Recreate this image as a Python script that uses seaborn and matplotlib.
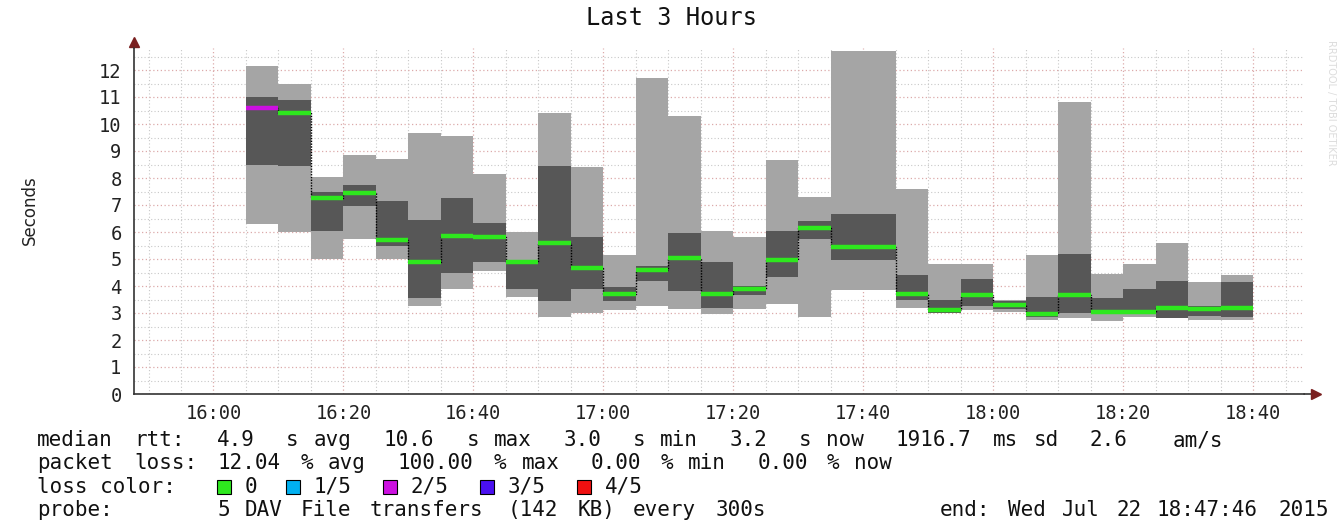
#!/usr/bin/env python3
"""SmokePing style chart: Last 3 Hours of DAV file transfer rtt."""

import matplotlib
matplotlib.use("Agg")
import matplotlib.pyplot as plt
import matplotlib.dates as mdates
from matplotlib.patches import Rectangle
from matplotlib.ticker import MultipleLocator
import numpy as np
import pandas as pd
import seaborn as sns

# one bar per probe round (5 pings, every 300s)
bar_start = pd.date_range("2015-07-22 16:05", periods=31, freq="5min")
ping_lo = [6.3, 6.0, 5.0, 5.75, 5.0, 3.25, 3.9, 4.55, 3.6, 2.85, 3.0, 3.1, 3.25, 3.15, 2.95, 3.15,
           3.35, 2.85, 3.85, 3.85, 3.2, 3.0, 3.1, 3.05, 2.75, 2.8, 2.7, 2.85, 2.8, 2.75, 2.75]
ping_q1 = [8.5, 8.45, 6.05, 6.95, 5.5, 3.55, 4.5, 4.9, 3.9, 3.45, 3.9, 3.45, 4.2, 3.8, 3.2, 3.65,
           4.35, 5.75, 4.95, 4.95, 3.5, 3.0, 3.25, 3.15, 2.85, 3.0, 2.95, 2.95, 2.8, 2.9, 2.85]
median = [10.6, 10.4, 7.25, 7.45, 5.7, 4.9, 5.85, 5.8, 4.9, 5.6, 4.65, 3.7, 4.6, 5.05, 3.7, 3.9,
          4.95, 6.15, 5.45, 5.45, 3.7, 3.1, 3.65, 3.3, 2.95, 3.65, 3.05, 3.05, 3.2, 3.15, 3.2]
ping_q3 = [11.0, 10.9, 7.5, 7.75, 7.15, 6.45, 7.25, 6.35, 4.95, 8.45, 5.8, 3.95, 4.75, 5.95, 4.9, 4.0,
           6.05, 6.4, 6.65, 6.65, 4.4, 3.5, 4.25, 3.45, 3.6, 5.2, 3.55, 3.9, 4.2, 3.25, 4.15]
ping_hi = [12.15, 11.5, 8.05, 8.85, 8.7, 9.65, 9.55, 8.15, 6.0, 10.4, 8.4, 5.15, 11.7, 10.3, 6.05, 5.8,
           8.65, 7.3, 12.7, 12.7, 7.6, 4.8, 4.8, 3.5, 5.15, 10.8, 4.45, 4.8, 5.6, 4.15, 4.4]
lost = [2] + [0] * 30

loss_labels = ["0", "1/5", "2/5", "3/5", "4/5"]
loss_colors = ["#2ee81e", "#00b0f0", "#cc10e0", "#4a10f0", "#f01010"]

W, H = 1339, 525
sns.set_theme(style="white")
plt.rcParams["font.family"] = ["DejaVu Sans Mono", "DejaVu Sans"]

fig = plt.figure(figsize=(W / 100, H / 100), dpi=100)
ax = fig.add_axes([134 / W, (H - 394) / H, (1303.5 - 134) / W, 12.8 * 27 / H])

x = mdates.date2num(bar_start)
w = 5 / 1440
lo = np.array(ping_lo)
q1 = np.array(ping_q1)
q3 = np.array(ping_q3)
hi = np.array(ping_hi)

ax.bar(x, hi - lo, bottom=lo, width=w, align="edge", color="#a5a5a5", linewidth=0, zorder=2)
ax.bar(x, q3 - q1, bottom=q1, width=w, align="edge", color="#575757", linewidth=0, zorder=3)

# median as a step line, the vertical joins are thin and dark
step_x = list(bar_start) + [bar_start[-1] + pd.Timedelta(minutes=5)]
step_y = median + [median[-1]]
sns.lineplot(x=step_x, y=step_y, drawstyle="steps-post", color="black", lw=1,
             linestyle=(0, (1, 1)), ax=ax, zorder=4)
ax.hlines(median, x, x + w, colors=[loss_colors[l] for l in lost], lw=3.2, zorder=5)

ax.set_xlim(mdates.date2num(pd.Timestamp("2015-07-22 15:47:46")),
            mdates.date2num(pd.Timestamp("2015-07-22 18:47:46")))
ax.set_ylim(0, 12.8)
ax.set_xlabel("")
ax.set_ylabel("")

ax.xaxis.set_major_locator(mdates.MinuteLocator(byminute=[0, 20, 40]))
ax.xaxis.set_minor_locator(mdates.MinuteLocator(byminute=range(0, 60, 5)))
ax.xaxis.set_major_formatter(mdates.DateFormatter("%H:%M"))
ax.yaxis.set_major_locator(MultipleLocator(1))
ax.yaxis.set_minor_locator(MultipleLocator(0.5))
ax.set_axisbelow(True)
ax.grid(which="minor", color="#c8c8c8", linestyle=(0, (1, 2)), lw=0.8)
ax.grid(which="major", color="#dcaaaa", linestyle=(0, (1, 2)), lw=0.9)

ax.tick_params(axis="both", which="major", labelsize=13.5, colors="#222222",
               length=4, width=0.8, direction="inout")
ax.tick_params(axis="both", which="minor", length=2, width=0.6, direction="inout", colors="#666666")
ax.tick_params(axis="x", pad=5)
ax.tick_params(axis="y", pad=7)

for side in ["top", "right"]:
    ax.spines[side].set_visible(False)
for side in ["left", "bottom"]:
    ax.spines[side].set_color("#333333")
    ax.spines[side].set_linewidth(1.2)

# axis arrows
ax.plot([0, 0], [1, 1.018], transform=ax.transAxes, color="#333333", lw=1.2, clip_on=False)
ax.plot([0], [1.018], marker="^", ms=7, color="#7a2020", transform=ax.transAxes, clip_on=False)
ax.plot([1, 1.011], [0, 0], transform=ax.transAxes, color="#333333", lw=1.2, clip_on=False)
ax.plot([1.011], [0], marker=">", ms=7, color="#7a2020", transform=ax.transAxes, clip_on=False)

fig.text(671 / W, 1 - 18 / H, "Last 3 Hours", ha="center", va="center", fontsize=17, color="#111111")
fig.text(30 / W, 1 - 210 / H, "Seconds", rotation=90, ha="center", va="center",
         fontsize=12, family="DejaVu Sans", color="#222222")
fig.text(1331 / W, 1 - 40 / H, "RRDTOOL / TOBI OETIKER", rotation=270, ha="center", va="top",
         fontsize=7, family="DejaVu Sans", color="#dcdcdc")

# legend text: rrdtool monospace rows, words set on a fixed character grid
X0 = 37
PITCH = 13.85


def put(xp, yp, s):
    fig.text(xp / W, 1 - yp / H, s, ha="left", va="center", fontsize=15, color="#111111")


def spaced(xp, yp, s, pitch=PITCH):
    col = 0
    for word in s.split(" "):
        if word:
            put(xp + col * pitch, yp, word)
        col += len(word) + 1


spaced(X0, 440, "median rtt:  4.9  s avg  10.6  s max  3.0  s min  3.2  s now  1916.7 ms sd  2.6   am/s")
spaced(X0, 463, "packet loss: 12.04 % avg  100.00 % max  0.00 % min  0.00 % now")

put(X0, 487, "loss color:")
box_col = [13, 18, 25, 32, 39]
for bc, lab, col in zip(box_col, loss_labels, loss_colors):
    bx = X0 + bc * PITCH
    fig.add_artist(Rectangle((bx / W, 1 - 494 / H), 14 / W, 14 / H, transform=fig.transFigure,
                             facecolor=col, edgecolor="black", lw=0.8))
    put(bx + 2 * PITCH, 487, lab)

spaced(X0, 510, "probe:       5 DAV File transfers (142 KB) every 300s")
spaced(940, 510, "end: Wed Jul 22 18:47:46 2015", 13.55)

fig.savefig("out.png", dpi=100)
